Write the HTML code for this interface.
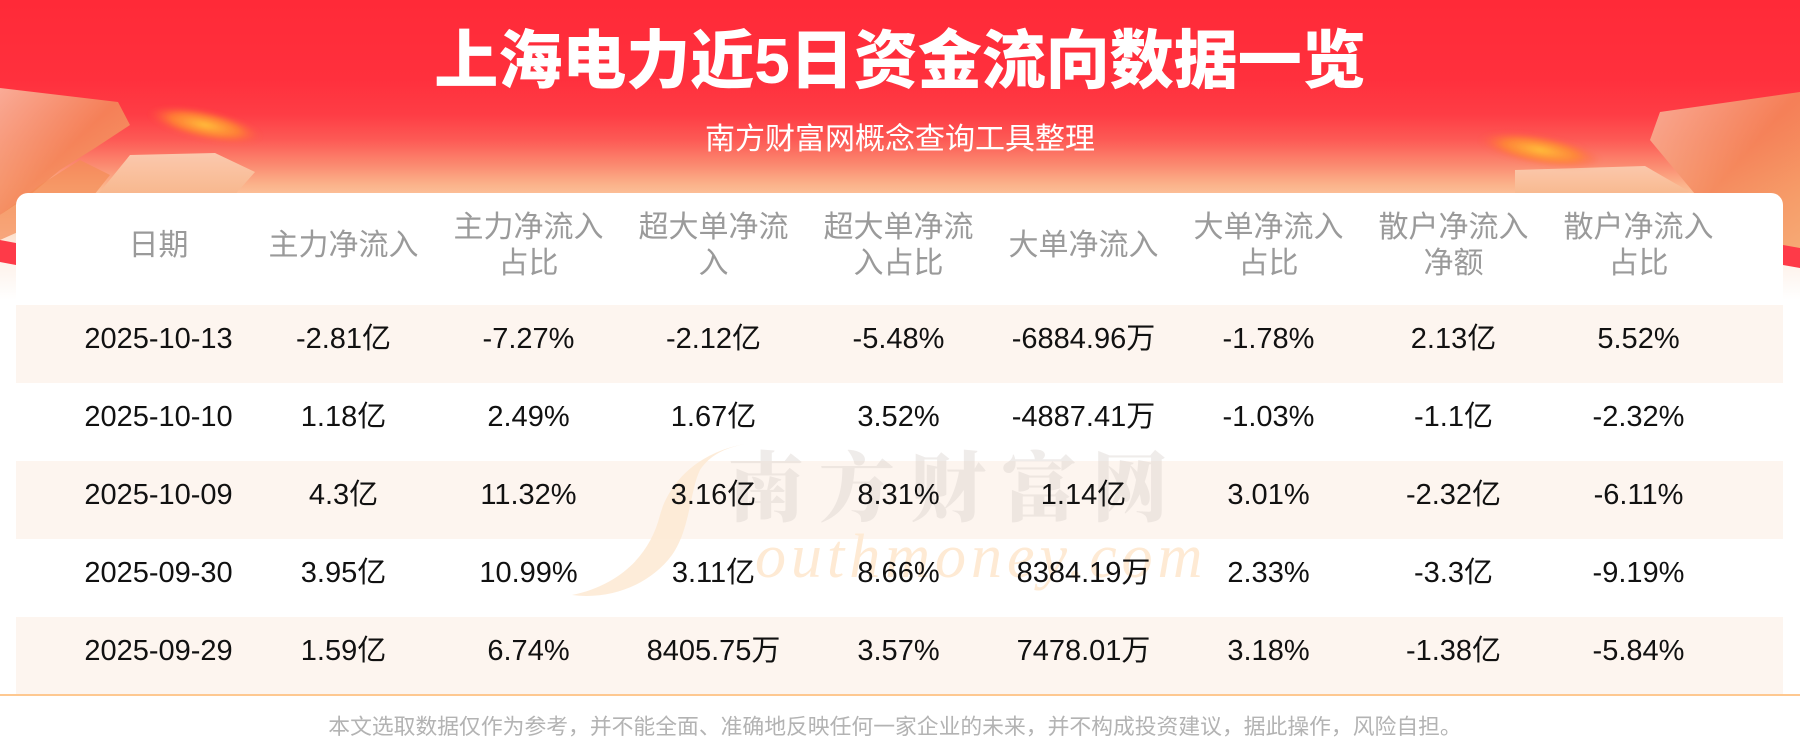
<!DOCTYPE html>
<html><head><meta charset="utf-8">
<style>
*{margin:0;padding:0;box-sizing:border-box}
body{width:1800px;height:743px;position:relative;overflow:hidden;background:#fff;font-family:"Liberation Sans","Noto Sans CJK SC",sans-serif}
.abs{position:absolute}
.hdrbg{left:0;top:0;width:1800px;height:300px;background:linear-gradient(to bottom,#ff2a38 0px,#ff303d 80px,#fe3d45 115px,#fd5a55 140px,#fb8a70 165px,#fbb38b 185px,#fcc7a0 200px,#fdd9bf 225px,#fdeee4 250px,#fef8f4 280px,#fff 300px)}
.title{left:0;top:25px;width:1800px;text-align:center;color:#fff;font-size:64px;line-height:72px;font-weight:900;font-family:"Liberation Sans","Noto Sans CJK SC",sans-serif;letter-spacing:0}
.sub{left:0;top:124px;width:1800px;text-align:center;color:#fff;font-size:30px;line-height:32px}
.card{left:16px;top:193px;width:1767px;height:502px;background:#fff;border-radius:12px 12px 0 0}
.rowbg{left:16px;width:1767px;height:78px;background:#fdf5ef}
.hcell{position:absolute;top:193px;height:106px;width:185px;display:flex;align-items:center;justify-content:center;text-align:center;color:#9a9a9a;font-size:30px;line-height:36px}
.dcell{position:absolute;width:185px;height:78px;text-align:center;color:#111;font-size:29px;line-height:68px;white-space:nowrap}
.line{left:0;top:694px;width:1800px;height:2px;background:#fec890}
.foot{left:0;top:715px;width:1800px;text-align:center;color:#b3b3b3;font-size:21.8px;line-height:24px;letter-spacing:0;padding-right:10px}
</style></head><body>
<div class="abs hdrbg"></div>
<svg class="abs" style="left:0;top:0" width="1800" height="300" viewBox="0 0 1800 300">
<defs>
<linearGradient id="ga" x1="0" y1="0" x2="1" y2="1"><stop offset="0" stop-color="#f9b8a0"/><stop offset="0.5" stop-color="#f4875a"/><stop offset="1" stop-color="#f6a46a"/></linearGradient>
<linearGradient id="gb" x1="0" y1="0" x2="0" y2="1"><stop offset="0" stop-color="#fbd2b6"/><stop offset="1" stop-color="#f7b489"/></linearGradient>
<radialGradient id="gc"><stop offset="0" stop-color="#ffc23a"/><stop offset="0.6" stop-color="#ff8a30" stop-opacity="0.8"/><stop offset="1" stop-color="#ff5a40" stop-opacity="0"/></radialGradient>
<filter id="bl"><feGaussianBlur stdDeviation="2"/></filter>
</defs>
<polygon points="0,88 118,102 130,125 95,148 60,170 30,195 0,215" fill="url(#ga)" opacity="0.9"/>
<polygon points="0,215 40,185 80,160 110,175 90,200 0,240" fill="#f38c55" opacity="0.7"/>
<polygon points="130,155 215,153 255,172 232,198 95,198" fill="url(#gb)" opacity="0.9"/>
<ellipse cx="205" cy="125" rx="58" ry="15" transform="rotate(12 205 125)" fill="url(#gc)" filter="url(#bl)"/>
<polygon points="0,240 16,243 16,265 0,262" fill="#fe3a48"/>
<polygon points="1660,112 1800,92 1800,262 1760,240 1700,200 1650,140" fill="url(#ga)" opacity="0.9"/>
<polygon points="1515,170 1645,166 1690,192 1515,198" fill="url(#gb)" opacity="0.85"/>
<ellipse cx="1540" cy="150" rx="62" ry="15" transform="rotate(10 1540 150)" fill="url(#gc)" filter="url(#bl)"/>
<polygon points="1783,245 1800,248 1800,268 1783,265" fill="#fe3a48"/>
</svg>
<div class="abs title">上海电力近5日资金流向数据一览</div>
<div class="abs sub">南方财富网概念查询工具整理</div>
<div class="abs card"></div>
<div class="abs rowbg" style="top:305px"></div>
<div class="abs rowbg" style="top:461px"></div>
<div class="abs rowbg" style="top:617px"></div>

<svg class="abs" style="left:540px;top:430px" width="700" height="180" viewBox="540 430 700 180">
<path d="M745,444 C700,452 670,480 660,515 C650,555 620,585 572,595 C610,600 650,585 672,555 C690,530 690,490 700,470 C710,455 725,448 745,444 Z" fill="#fde9d2" opacity="0.85"/>
<text x="755" y="577" font-family="Liberation Serif,serif" font-style="italic" font-size="62" letter-spacing="5" fill="#feead4">outhmoney.com</text>
<text x="728" y="515" font-family="Noto Serif CJK SC,serif" font-weight="900" font-size="76" letter-spacing="15" fill="#d8d0cc" opacity="0.4">南方财富网</text>
</svg>

<div class="hcell" style="left:66px">日期</div>
<div class="hcell" style="left:251px">主力净流入</div>
<div class="hcell" style="left:436px">主力净流入<br>占比</div>
<div class="hcell" style="left:621px">超大单净流<br>入</div>
<div class="hcell" style="left:806px">超大单净流<br>入占比</div>
<div class="hcell" style="left:991px">大单净流入</div>
<div class="hcell" style="left:1176px">大单净流入<br>占比</div>
<div class="hcell" style="left:1361px">散户净流入<br>净额</div>
<div class="hcell" style="left:1546px">散户净流入<br>占比</div>

<div class="dcell" style="left:66px;top:305px">2025-10-13</div>
<div class="dcell" style="left:251px;top:305px">-2.81亿</div>
<div class="dcell" style="left:436px;top:305px">-7.27%</div>
<div class="dcell" style="left:621px;top:305px">-2.12亿</div>
<div class="dcell" style="left:806px;top:305px">-5.48%</div>
<div class="dcell" style="left:991px;top:305px">-6884.96万</div>
<div class="dcell" style="left:1176px;top:305px">-1.78%</div>
<div class="dcell" style="left:1361px;top:305px">2.13亿</div>
<div class="dcell" style="left:1546px;top:305px">5.52%</div>

<div class="dcell" style="left:66px;top:383px">2025-10-10</div>
<div class="dcell" style="left:251px;top:383px">1.18亿</div>
<div class="dcell" style="left:436px;top:383px">2.49%</div>
<div class="dcell" style="left:621px;top:383px">1.67亿</div>
<div class="dcell" style="left:806px;top:383px">3.52%</div>
<div class="dcell" style="left:991px;top:383px">-4887.41万</div>
<div class="dcell" style="left:1176px;top:383px">-1.03%</div>
<div class="dcell" style="left:1361px;top:383px">-1.1亿</div>
<div class="dcell" style="left:1546px;top:383px">-2.32%</div>

<div class="dcell" style="left:66px;top:461px">2025-10-09</div>
<div class="dcell" style="left:251px;top:461px">4.3亿</div>
<div class="dcell" style="left:436px;top:461px">11.32%</div>
<div class="dcell" style="left:621px;top:461px">3.16亿</div>
<div class="dcell" style="left:806px;top:461px">8.31%</div>
<div class="dcell" style="left:991px;top:461px">1.14亿</div>
<div class="dcell" style="left:1176px;top:461px">3.01%</div>
<div class="dcell" style="left:1361px;top:461px">-2.32亿</div>
<div class="dcell" style="left:1546px;top:461px">-6.11%</div>

<div class="dcell" style="left:66px;top:539px">2025-09-30</div>
<div class="dcell" style="left:251px;top:539px">3.95亿</div>
<div class="dcell" style="left:436px;top:539px">10.99%</div>
<div class="dcell" style="left:621px;top:539px">3.11亿</div>
<div class="dcell" style="left:806px;top:539px">8.66%</div>
<div class="dcell" style="left:991px;top:539px">8384.19万</div>
<div class="dcell" style="left:1176px;top:539px">2.33%</div>
<div class="dcell" style="left:1361px;top:539px">-3.3亿</div>
<div class="dcell" style="left:1546px;top:539px">-9.19%</div>

<div class="dcell" style="left:66px;top:617px">2025-09-29</div>
<div class="dcell" style="left:251px;top:617px">1.59亿</div>
<div class="dcell" style="left:436px;top:617px">6.74%</div>
<div class="dcell" style="left:621px;top:617px">8405.75万</div>
<div class="dcell" style="left:806px;top:617px">3.57%</div>
<div class="dcell" style="left:991px;top:617px">7478.01万</div>
<div class="dcell" style="left:1176px;top:617px">3.18%</div>
<div class="dcell" style="left:1361px;top:617px">-1.38亿</div>
<div class="dcell" style="left:1546px;top:617px">-5.84%</div>

<div class="abs line"></div>
<div class="abs foot">本文选取数据仅作为参考，并不能全面、准确地反映任何一家企业的未来，并不构成投资建议，据此操作，风险自担。</div>
</body></html>
